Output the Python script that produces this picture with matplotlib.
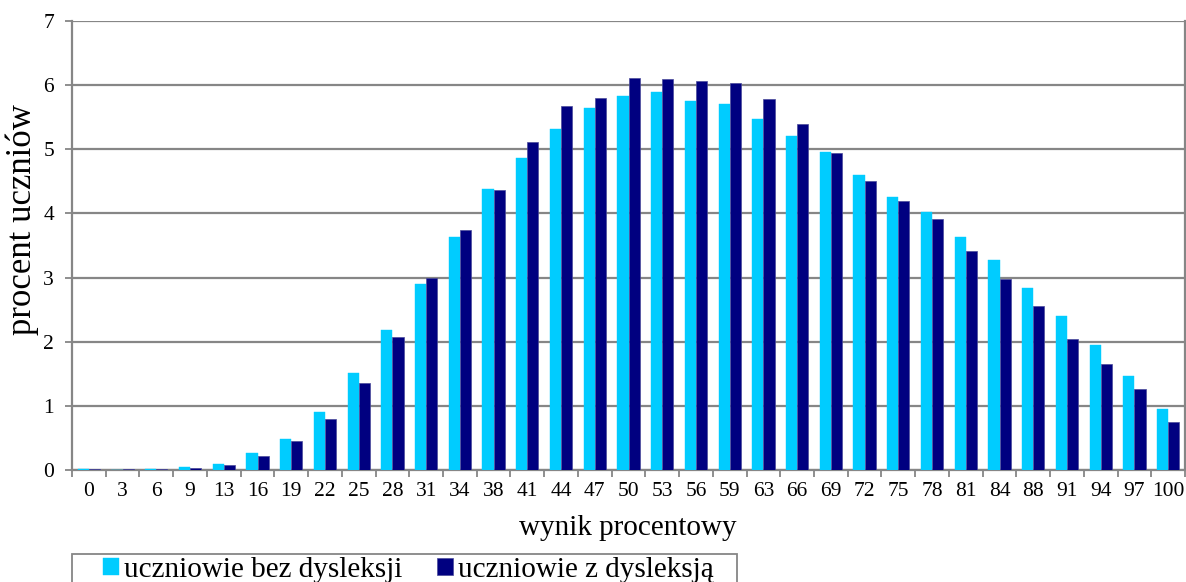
import matplotlib
matplotlib.use("Agg")
import matplotlib.pyplot as plt
import numpy as np
from matplotlib.ticker import FixedLocator, NullFormatter
from matplotlib.patches import Rectangle

categories = ["0", "3", "6", "9", "13", "16", "19", "22", "25", "28", "31", "34", "38",
              "41", "44", "47", "50", "53", "56", "59", "63", "66", "69", "72", "75",
              "78", "81", "84", "88", "91", "94", "97", "100"]
bez_dysleksji = [0.02, 0.0, 0.01, 0.05, 0.10, 0.26, 0.49, 0.90, 1.51, 2.19, 2.90, 3.64, 4.38,
                 4.86, 5.31, 5.64, 5.83, 5.90, 5.76, 5.71, 5.47, 5.21, 4.95, 4.60, 4.25,
                 4.03, 3.63, 3.28, 2.83, 2.40, 1.95, 1.46, 0.95]
z_dysleksja = [0.02, 0.02, 0.02, 0.03, 0.08, 0.22, 0.45, 0.80, 1.36, 2.07, 3.00, 3.74, 4.36,
               5.11, 5.68, 5.80, 6.11, 6.09, 6.06, 6.04, 5.79, 5.39, 4.94, 4.50, 4.20,
               3.91, 3.41, 2.98, 2.56, 2.05, 1.65, 1.27, 0.75]
series_names = ["uczniowie bez dysleksji", "uczniowie z dysleksją"]
yticks = [0, 1, 2, 3, 4, 5, 6, 7]

plt.rcParams['font.family'] = ['Liberation Serif', 'DejaVu Serif']

W, H = 1186, 582
fig = plt.figure(figsize=(W / 100, H / 100), dpi=100)
ax = fig.add_axes([72 / W, 1 - 470 / H, (1185 - 72) / W, (470 - 21) / H])

grey = "#868686"
light = "#00CCFF"
dark = "#000080"

x = np.arange(len(categories))
bw = 0.33
ax.bar(x - bw / 2, bez_dysleksji, width=bw, color=light, edgecolor=light, linewidth=0.3,
       label=series_names[0], zorder=3)
ax.bar(x + bw / 2, z_dysleksja, width=bw, color=dark, edgecolor="#4a4a9a", linewidth=0.5,
       label=series_names[1], zorder=3)

ax.set_xlim(-0.5, len(categories) - 0.5)
ax.set_ylim(0, 7)
ax.set_yticks(yticks)
ax.set_yticklabels([str(v) for v in yticks])
ax.yaxis.grid(True, color=grey, linewidth=1.6, zorder=0)
ax.set_axisbelow(True)

ax.xaxis.set_major_locator(FixedLocator(np.arange(-0.5, len(categories), 1.0)))
ax.xaxis.set_major_formatter(NullFormatter())
ax.xaxis.set_minor_locator(FixedLocator(x))
ax.set_xticklabels(categories, minor=True)
ax.tick_params(axis='x', which='major', length=5, width=1.3, color=grey, direction='out')
ax.tick_params(axis='x', which='minor', length=0, pad=9, labelsize=15.5)
ax.tick_params(axis='y', length=5, width=1.3, color=grey, direction='out', pad=8, labelsize=15.5)

ax.spines['top'].set_visible(False)
for s in ['left', 'bottom', 'right']:
    ax.spines[s].set_color(grey)
    ax.spines[s].set_linewidth(1.6)

fig.text(22 / W, 1 - 220 / H, "procent uczniów", rotation=90, ha='center', va='center',
         fontsize=25)
fig.text(628 / W, 1 - 528 / H, "wynik procentowy", ha='center', va='center', fontsize=21)

# legend frame (extends below the figure edge, as in the reference)
fig.patches.append(Rectangle((72 / W, -0.05), (737 - 72) / W, 0.05 + (H - 554) / H,
                             transform=fig.transFigure, facecolor='white',
                             edgecolor=grey, linewidth=1.3, zorder=1))
leg = fig.legend(loc='upper left', bbox_to_anchor=(103 / W, 1 - 557 / H), ncol=2,
                 fontsize=21, frameon=False, handlelength=0.55,
                 handleheight=0.55, handletextpad=0.17, columnspacing=1.17,
                 borderpad=0, borderaxespad=0)
leg.set_zorder(2)

fig.savefig("out.png", dpi=100)
